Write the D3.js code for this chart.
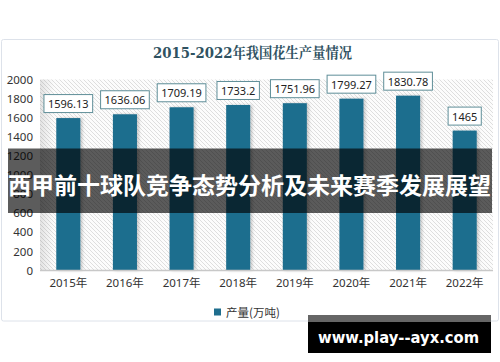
<!DOCTYPE html>
<html><head><meta charset="utf-8">
<script src="https://cdn.jsdelivr.net/npm/d3@7"></script>
<style>html,body{margin:0;padding:0;background:#fff;}svg{display:block;}</style>
</head><body>
<svg id="c" width="500" height="362"></svg>
<script>
const categories = ["2015年","2016年","2017年","2018年","2019年","2020年","2021年","2022年"];
const values = [1596.13, 1636.06, 1709.19, 1733.2, 1751.96, 1799.27, 1830.78, 1465];
const valueLabels = ["1596.13","1636.06","1709.19","1733.2","1751.96","1799.27","1830.78","1465"];
const yTicks = [0,200,400,600,800,1000,1200,1400,1600,1800,2000];
const title = "2015-2022年我国花生产量情况";
const legendLabel = "产量(万吨)";
const bannerText = "西甲前十球队竞争态势分析及未来赛季发展展望";
const watermarkText = "www.play--ayx.com";

const svg = d3.select("#c");
const defs = svg.append("defs");
const pat = defs.append("pattern").attr("id","hatch").attr("patternUnits","userSpaceOnUse")
  .attr("width",4).attr("height",4);
pat.append("rect").attr("width",4).attr("height",4).attr("fill","#fcfcfc");
pat.append("path").attr("d","M-1,-1 L5,5 M-1,3 L1,5 M3,-1 L5,1").attr("stroke","#dedede").attr("stroke-width",1);
const f = defs.append("filter").attr("id","sh").attr("x","-30%").attr("y","-10%").attr("width","160%").attr("height","130%");
f.append("feDropShadow").attr("dx",2).attr("dy",0).attr("stdDeviation",1.5).attr("flood-color","#000").attr("flood-opacity",0.2);
const lg = defs.append("linearGradient").attr("id","lsh").attr("x1",0).attr("x2",1);
lg.append("stop").attr("offset",0).attr("stop-color","#000").attr("stop-opacity",0.1);
lg.append("stop").attr("offset",1).attr("stop-color","#000").attr("stop-opacity",0);

// chart frame
svg.append("rect").attr("x",1.5).attr("y",39.5).attr("width",497).attr("height",281.5)
  .attr("fill","#fff").attr("stroke","#dde2ea").attr("stroke-width",1).attr("rx",2);

svg.append("text").attr("x",153).attr("y",58)
  .attr("font-family","'DejaVu Serif','Liberation Serif','Noto Serif CJK SC',serif")
  .attr("font-weight","bold").attr("font-size",14.5).attr("fill","#2f5261")
  .attr("textLength",199).attr("lengthAdjust","spacingAndGlyphs").text(title);

const x = d3.scaleBand().domain(categories).range([40,493]).paddingInner(0.575).paddingOuter(0.2875);
const y = d3.scaleLinear().domain([0,2000]).range([270.5,79.5]);

// plot background
svg.append("rect").attr("x",40).attr("y",y(2000)).attr("width",453).attr("height",y(0)-y(2000)).attr("fill","url(#hatch)");
svg.append("rect").attr("x",40).attr("y",y(2000)).attr("width",14).attr("height",y(0)-y(2000)).attr("fill","url(#lsh)");

// y axis
const yAxis = d3.axisLeft(y).tickValues(yTicks).tickSize(0).tickPadding(0).tickFormat(d3.format("d"));
const ya = svg.append("g").attr("transform","translate(33,0)").call(yAxis);
ya.select(".domain").remove();
ya.selectAll("text").attr("font-family","'Noto Sans','DejaVu Sans',sans-serif").attr("font-size",11.5).attr("fill","#333");

// bars
svg.append("g").selectAll("rect").data(values).join("rect")
  .attr("x",(d,i)=>x(categories[i])).attr("width",x.bandwidth())
  .attr("y",d=>y(d)).attr("height",d=>y(0)-y(d))
  .attr("fill","#1f6e8e").attr("filter","url(#sh)");

// baseline
svg.append("line").attr("x1",40).attr("x2",493).attr("y1",y(0)).attr("y2",y(0)).attr("stroke","#c8c8c8").attr("stroke-width",1.5);

// x axis
const xAxis = d3.axisBottom(x).tickSize(0).tickPadding(0);
const xa = svg.append("g").attr("transform","translate(0,279)").call(xAxis);
xa.select(".domain").remove();
xa.selectAll("text").attr("font-family","'Noto Sans','Noto Sans CJK SC',sans-serif").attr("font-size",11.5).attr("fill","#333");

// value labels
const lbl = svg.append("g").selectAll("g").data(values).join("g");
lbl.each(function(d,i){
  const g = d3.select(this);
  const cx = x(categories[i]) + x.bandwidth()/2;
  const t = g.append("text").attr("x",cx).attr("y",y(d)-14.5).attr("text-anchor","middle")
    .attr("dominant-baseline","central")
    .attr("font-family","'Noto Sans','DejaVu Sans',sans-serif").attr("font-size",11).attr("fill","#222")
    .text(valueLabels[i]);
  const w = t.node().getComputedTextLength() + 8;
  g.insert("rect","text").attr("x",cx-w/2).attr("y",y(d)-23.5).attr("width",w).attr("height",18)
    .attr("fill","#fff").attr("stroke","#5f8e98").attr("stroke-width",1);
});

// legend
svg.append("rect").attr("x",214).attr("y",308.5).attr("width",7).attr("height",7).attr("fill","#1f6e8e");
svg.append("text").attr("x",226).attr("y",312).attr("dominant-baseline","central")
  .attr("font-family","'Noto Sans CJK SC','Noto Sans',sans-serif").attr("font-size",11.5).attr("fill","#333").text(legendLabel);

// banner overlay
svg.append("rect").attr("x",8).attr("y",148.5).attr("width",484).attr("height",64.5).attr("fill","rgba(0,0,0,0.64)");
svg.append("text").attr("x",8).attr("y",183.5).attr("dominant-baseline","central")
  .attr("font-family","'Noto Sans CJK SC',sans-serif").attr("font-weight","bold").attr("font-size",23)
  .attr("textLength",483).attr("lengthAdjust","spacingAndGlyphs")
  .attr("fill","#fff").text(bannerText);

// watermark
svg.append("rect").attr("x",308).attr("y",315).attr("width",183).attr("height",7).attr("fill","#666");
svg.append("rect").attr("x",308).attr("y",322).attr("width",183).attr("height",31).attr("fill","#000");
svg.append("text").attr("x",318).attr("y",342.5)
  .attr("font-family","'DejaVu Sans',sans-serif").attr("font-weight","bold").attr("font-size",15)
  .attr("textLength",161).attr("lengthAdjust","spacingAndGlyphs")
  .attr("fill","#fff").text(watermarkText);
</script>
</body></html>
